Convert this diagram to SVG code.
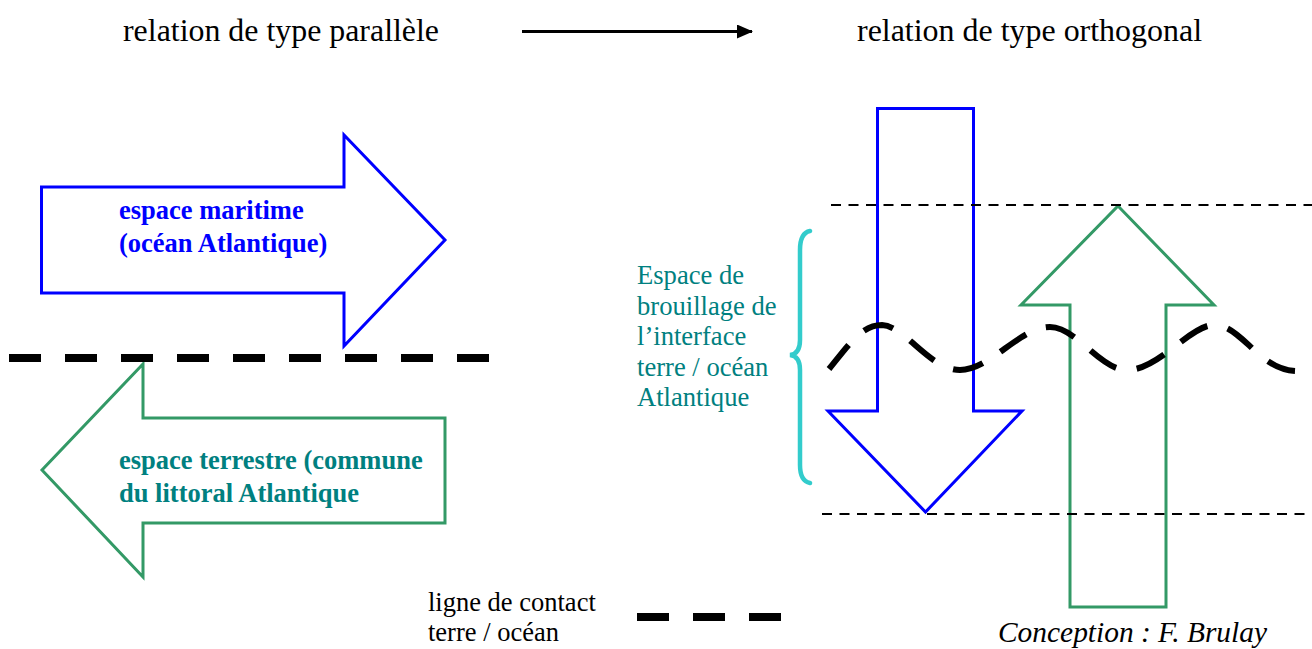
<svg xmlns="http://www.w3.org/2000/svg" width="1312" height="649" viewBox="0 0 1312 649">
<style>
.t{font-family:"Liberation Serif","Times New Roman",serif;fill:#000}
.b{font-family:"Liberation Serif","Times New Roman",serif;font-weight:bold;font-size:26.5px}
.teal{font-family:"Liberation Serif","Times New Roman",serif;font-size:26.6px;fill:#008080}
.blue{fill:none;stroke:#0000ff;stroke-width:3}
.green{fill:none;stroke:#339966;stroke-width:3}
.contact{fill:none;stroke:#000;stroke-width:8;stroke-dasharray:32 24}
.thin{fill:none;stroke:#000;stroke-width:2;stroke-dasharray:10 7.5}
</style>
<defs>
<marker id="ah" markerWidth="16" markerHeight="14" refX="15" refY="7" orient="auto" markerUnits="userSpaceOnUse">
<path d="M0,0 L16,7 L0,14 Z" fill="#000"/>
</marker>
</defs>

<g id="title-left"><text class="t" x="123" y="41" font-size="32" textLength="316" lengthAdjust="spacingAndGlyphs">relation de type parallèle</text></g>
<g id="title-right"><text class="t" x="857" y="41" font-size="32" textLength="345" lengthAdjust="spacingAndGlyphs">relation de type orthogonal</text></g>

<g id="arrow-maritime">
<path class="blue" d="M41.5,187 L344,187 L344,135 L445,240 L344,346 L344,293 L41.5,293 Z"/>
<text class="b" x="119" y="219" fill="#0000ff">espace maritime</text>
<text class="b" x="119" y="252" fill="#0000ff">(océan Atlantique)</text>
</g>

<g id="arrow-terrestre">
<path class="green" d="M445,418 L143,418 L143,364 L42,470 L143,577 L143,523 L445,523 Z"/>
<text class="b" x="119" y="469" fill="#008080">espace terrestre (commune</text>
<text class="b" x="119" y="502" fill="#008080">du littoral Atlantique</text>
</g>

<g id="arrow-down">
<path class="blue" d="M877.5,108.5 L973.5,108.5 L973.5,411 L1022,411 L925.5,512 L828,411 L877.5,411 Z"/>
</g>

<g id="arrow-up">
<path class="green" d="M1118,206 L1214,305 L1166,305 L1166,607 L1070,607 L1070,305 L1021,305 Z"/>
</g>

<g id="brace-label">
<path d="M810,231 Q800,233 800,250 L800,340 Q800,354 790,355 Q800,356 800,370 L800,465 Q800,481 810,483" fill="none" stroke="#33cccc" stroke-width="4.5" stroke-linecap="round"/>
<text class="teal" x="637" y="284">Espace de</text>
<text class="teal" x="637" y="314.5">brouillage de</text>
<text class="teal" x="637" y="345">l’interface</text>
<text class="teal" x="637" y="375.5">terre / océan</text>
<text class="teal" x="637" y="406">Atlantique</text>
</g>

<g id="connectors">
<line x1="522" y1="31.5" x2="752" y2="31.5" stroke="#000" stroke-width="3" marker-end="url(#ah)"/>
<line class="contact" x1="9" y1="358" x2="489" y2="358"/>
<line class="thin" x1="831" y1="205" x2="1312" y2="205"/>
<line class="thin" x1="822" y1="514" x2="1312" y2="514"/>
<path d="M829,369 C850,343 862,325 882,325 C905,326 930,370 960,370 C990,370 1020,327 1050,327 C1077,327 1100,371 1128,370 C1160,369 1190,325 1214,325 C1242,325 1258,369 1295,371" fill="none" stroke="#000" stroke-width="6" stroke-dasharray="31 21"/>
</g>

<g id="legend">
<text class="t" x="428" y="611" font-size="26.5">ligne de contact</text>
<text class="t" x="428" y="641" font-size="26.5">terre / océan</text>
<line class="contact" x1="637" y1="617" x2="782" y2="617"/>
</g>

<g id="credit"><text class="t" x="998" y="642" font-size="29" font-style="italic" textLength="269" lengthAdjust="spacingAndGlyphs">Conception : F. Brulay</text></g>
</svg>
